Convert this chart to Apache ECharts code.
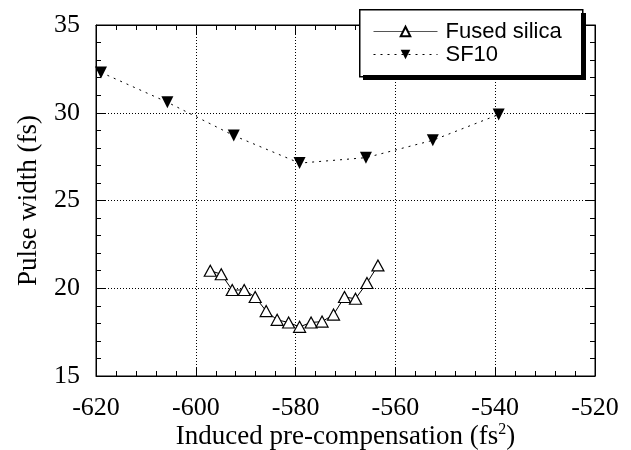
<!DOCTYPE html>
<html>
<head>
<meta charset="utf-8">
<script src="https://cdn.jsdelivr.net/npm/echarts@6/dist/echarts.min.js"></script>
<style>
  html, body { margin: 0; padding: 0; background: #fff; }
  #chart { width: 631px; height: 450px; }
</style>
</head>
<body>
<div id="chart"></div>
<script>
  // values
  var fusedX = [-597.1, -594.9, -592.7, -590.3, -588.1, -585.9, -583.7, -581.4,
                -579.2, -576.9, -574.7, -572.4, -570.2, -568.0, -565.7, -563.5];
  var fusedY = [21.0, 20.8, 19.9, 19.9, 19.5, 18.7, 18.2, 18.05,
                17.8, 18.05, 18.1, 18.5, 19.5, 19.4, 20.3, 21.3];
  var sf10X = [-619.0, -605.7, -592.4, -579.2, -565.9, -552.5, -539.3];
  var sf10Y = [32.3, 30.6, 28.7, 27.13, 27.44, 28.43, 29.9];

  var myChart = echarts.init(document.getElementById('chart'));

  function pairs(xs, ys) {
    var out = [];
    for (var i = 0; i < xs.length; i++) {
      out.push([xs[i], ys[i]]);
    }
    return out;
  }

  var serif = 'Liberation Serif';
  var tickStyle = { show: true, inside: true, length: 9, lineStyle: { color: '#000', width: 1 } };
  var minorStyle = { show: true, splitNumber: 5, length: 5, lineStyle: { color: '#000', width: 1 } };

  var option = {
    backgroundColor: '#fff',
    animation: false,
    grid: {
      left: 96, right: 36, top: 25, bottom: 74,
      containLabel: false, outerBoundsMode: 'none',
      show: true, borderColor: '#000', borderWidth: 1
    },
    // legend box with its hard shadow (right and bottom strips)
    graphic: {
      elements: [
        { type: 'rect', id: 'legBox', z: 50, left: 359, top: 9,
          shape: { width: 223, height: 67 }, style: { fill: '#fff', stroke: '#000', lineWidth: 1.5 } },
        { type: 'rect', id: 'shadowR', z: 51, left: 581, top: 13,
          shape: { width: 5, height: 67 }, style: { fill: '#000' } },
        { type: 'rect', id: 'shadowB', z: 51, left: 363, top: 75,
          shape: { width: 223, height: 5 }, style: { fill: '#000' } }
      ]
    },
    legend: {
      z: 60,
      orient: 'vertical',
      left: 373,
      top: 20,
      padding: 0,
      itemGap: 0,
      itemWidth: 64,
      itemHeight: 12,
      textStyle: { fontFamily: 'Liberation Sans', fontSize: 22, lineHeight: 23, color: '#000', padding: [0, 0, 0, 3] },
      data: [
        { name: 'Fused silica', lineStyle: { color: '#555', width: 1 } },
        { name: 'SF10', lineStyle: { color: '#000', width: 1 } }
      ]
    },
    xAxis: [
      {
        type: 'value',
        min: -620, max: -520, interval: 20,
        position: 'bottom',
        name: '{a|Induced pre-compensation (fs}{s|2}{a|)}',
        nameLocation: 'middle',
        nameGap: 46,
        nameMoveOverlap: false,
        nameTextStyle: {
          rich: {
            a: { fontFamily: serif, fontSize: 27, color: '#000' },
            s: { fontFamily: serif, fontSize: 16, color: '#000', verticalAlign: 'top', padding: [0, 0, 14, 0] }
          }
        },
        axisLine: { lineStyle: { color: '#000' } },
        axisTick: tickStyle,
        minorTick: minorStyle,
        axisLabel: { fontFamily: serif, fontSize: 26, color: '#000', margin: 19 },
        splitLine: { show: true, lineStyle: { color: '#000', type: [1, 2], width: 1 } }
      },
      {
        type: 'value',
        min: -620, max: -520, interval: 20,
        position: 'top',
        axisLine: { lineStyle: { color: '#000' } },
        axisTick: tickStyle,
        minorTick: minorStyle,
        axisLabel: { show: false },
        splitLine: { show: false }
      }
    ],
    yAxis: [
      {
        type: 'value',
        min: 15, max: 35, interval: 5,
        position: 'left',
        name: 'Pulse width (fs)',
        nameLocation: 'middle',
        nameGap: 54,
        nameMoveOverlap: false,
        nameTextStyle: { fontFamily: serif, fontSize: 27, color: '#000' },
        axisLine: { lineStyle: { color: '#000' } },
        axisTick: tickStyle,
        minorTick: minorStyle,
        axisLabel: { fontFamily: serif, fontSize: 26, color: '#000', margin: 16 },
        splitLine: { show: true, lineStyle: { color: '#000', type: [1, 2], width: 1 } }
      },
      {
        type: 'value',
        min: 15, max: 35, interval: 5,
        position: 'right',
        axisLine: { lineStyle: { color: '#000' } },
        axisTick: tickStyle,
        minorTick: minorStyle,
        axisLabel: { show: false },
        splitLine: { show: false }
      }
    ],
    series: [
      {
        name: 'SF10',
        type: 'line',
        data: pairs(sf10X, sf10Y),
        symbol: 'triangle',
        symbolRotate: 180,
        symbolSize: [12, 12],
        lineStyle: { color: '#000', width: 1, type: [2, 5] },
        itemStyle: { color: '#000', borderColor: '#000', borderWidth: 0 }
      },
      {
        name: 'Fused silica',
        type: 'line',
        data: pairs(fusedX, fusedY),
        symbol: 'triangle',
        symbolSize: [12, 11],
        lineStyle: { color: '#000', width: 1 },
        itemStyle: { color: '#fff', borderColor: '#000', borderWidth: 1.2 }
      }
    ]
  };

  myChart.setOption(option, true);
</script>
</body>
</html>
